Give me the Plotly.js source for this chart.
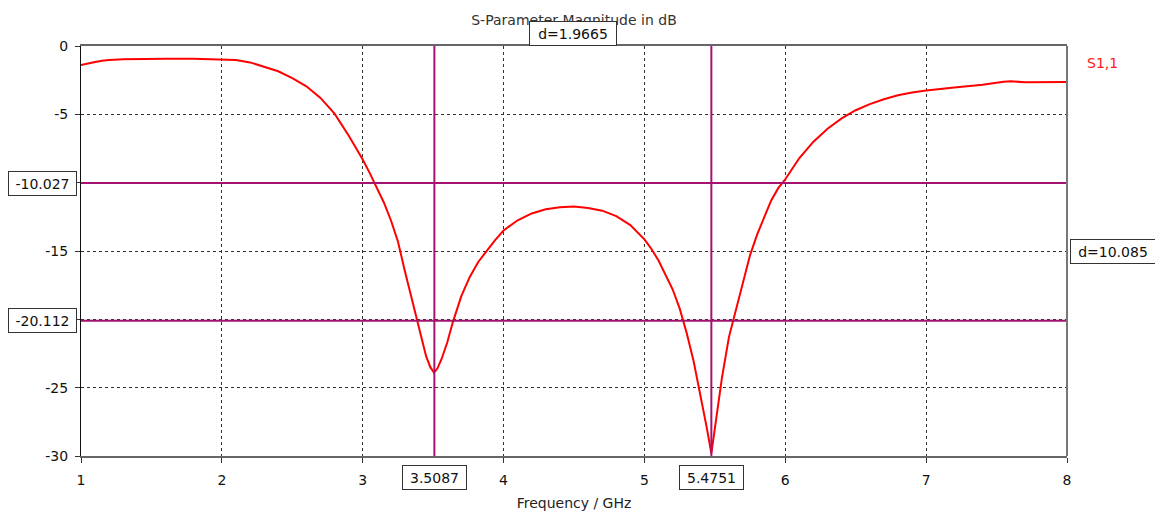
<!DOCTYPE html>
<html>
<head>
<meta charset="utf-8">
<script src="https://cdn.plot.ly/plotly-3.0.1.min.js"></script>
<style>
  html, body { margin: 0; padding: 0; background: #fff; }
  #chart { width: 1155px; height: 515px; }
</style>
</head>
<body>
<div id="chart"></div>
<script>
// ---- Data ----
const freqGHz = [1.0, 1.05, 1.1, 1.15, 1.2, 1.3, 1.45, 1.6, 1.8, 2.0, 2.1, 2.2, 2.3, 2.4, 2.5, 2.6, 2.7, 2.8, 2.9,
  3.0, 3.05, 3.1, 3.15, 3.2, 3.25, 3.3, 3.35, 3.4, 3.45, 3.48, 3.506, 3.53, 3.56, 3.6, 3.64, 3.7, 3.76, 3.82, 3.88, 3.94,
  4.0, 4.1, 4.2, 4.3, 4.4, 4.5, 4.6, 4.7, 4.8, 4.9,
  5.0, 5.05, 5.1, 5.15, 5.2, 5.25, 5.3, 5.35, 5.4, 5.44, 5.4751, 5.5, 5.55, 5.6, 5.65, 5.7, 5.75, 5.8, 5.85, 5.9, 5.95,
  6.0, 6.1, 6.2, 6.3, 6.4, 6.5, 6.6, 6.7, 6.8, 6.9, 7.0, 7.2, 7.4, 7.55, 7.6, 7.7, 7.85, 8.0];
const s11dB = [-1.4, -1.27, -1.17, -1.08, -1.02, -0.97, -0.94, -0.93, -0.94, -0.97, -1.03, -1.2, -1.5, -1.85, -2.35, -2.95, -3.8, -4.95, -6.55,
  -8.3, -9.3, -10.35, -11.45, -12.75, -14.3, -16.5, -18.6, -20.8, -22.7, -23.5, -23.9, -23.6, -22.9, -21.7, -20.2, -18.3, -16.9, -15.8, -15.0, -14.2,
  -13.5, -12.75, -12.25, -11.95, -11.8, -11.75, -11.85, -12.05, -12.45, -13.1,
  -14.15, -14.85, -15.7, -16.7, -17.8, -19.2, -21.0, -23.1, -25.6, -27.8, -29.8, -28.0, -24.3, -21.3, -19.3, -17.1, -15.3, -13.8, -12.5, -11.3, -10.4,
  -9.75, -8.2, -7.0, -6.05, -5.3, -4.7, -4.25, -3.9, -3.6, -3.4, -3.25, -3.03, -2.83, -2.62, -2.58, -2.65, -2.63, -2.63];
const seriesName = 'S1,1';

const xTickVals = [1, 2, 3, 4, 5, 6, 7, 8];
const xTickText = ['1', '2', '3', '4', '5', '6', '7', '8'];
const yTickVals = [0, -5, -10, -15, -20, -25, -30];
const yTickText = ['0', '-5', '', '-15', '', '-25', '-30'];

// markers
const markerFreqs = [3.5087, 5.4751];
const markerFreqLabels = ['3.5087', '5.4751'];
const markerLevels = [-10.027, -20.112];
const markerLevelLabels = ['-10.027', '-20.112'];
const deltaFreqLabel = 'd=1.9665';
const deltaLevelLabel = 'd=10.085';

const xRange = [1, 8];
const yRange = [-30, 0];

// ---- Style ----
const FONT = 'DejaVu Sans, Verdana, sans-serif';
const MARK = '#a3136f';

const traces = [{
  x: freqGHz, y: s11dB, type: 'scatter', mode: 'lines', name: seriesName,
  line: { color: '#ff0000', width: 2 }, hoverinfo: 'skip', showlegend: false
}];
markerLevels.forEach(v => traces.push({
  x: xRange, y: [v, v], type: 'scatter', mode: 'lines',
  line: { color: MARK, width: 2 }, hoverinfo: 'skip', showlegend: false
}));
markerFreqs.forEach(v => traces.push({
  x: [v, v], y: yRange, type: 'scatter', mode: 'lines',
  line: { color: MARK, width: 2 }, hoverinfo: 'skip', showlegend: false
}));

const W = 986, H = 410;
const boxStyle = {
  showarrow: false, bgcolor: '#ffffff', bordercolor: '#333333', borderwidth: 1, borderpad: 3,
  font: { family: FONT, size: 14, color: '#111' }, height: 17
};
const annotations = [];
markerLevels.forEach((v, i) => annotations.push(Object.assign({}, boxStyle, {
  text: markerLevelLabels[i], xref: 'paper', x: -4 / W, xanchor: 'right',
  yref: 'y', y: v, yanchor: 'middle', width: 61
})));
markerFreqs.forEach((v, i) => annotations.push(Object.assign({}, boxStyle, {
  text: markerFreqLabels[i], xref: 'x', x: v, xanchor: 'center',
  yref: 'paper', y: -9 / H, yanchor: 'top', width: 57
})));
annotations.push(Object.assign({}, boxStyle, {
  text: deltaFreqLabel, xref: 'x', x: (markerFreqs[0] + markerFreqs[1]) / 2, xanchor: 'center',
  yref: 'paper', y: 1, yanchor: 'bottom', width: 80
}));
annotations.push(Object.assign({}, boxStyle, {
  text: deltaLevelLabel, xref: 'paper', x: 1 + 3 / W, xanchor: 'left',
  yref: 'y', y: (markerLevels[0] + markerLevels[1]) / 2, yanchor: 'middle', width: 78
}));
annotations.push({
  text: seriesName, showarrow: false, xref: 'paper', x: 1 + 18 / W, xanchor: 'left',
  yref: 'paper', y: 1 - 17 / H, yanchor: 'middle',
  font: { family: FONT, size: 14, color: '#ff2020' }
});

const layout = {
  width: 1155, height: 515,
  margin: { l: 81, r: 88, t: 46, b: 59 },
  paper_bgcolor: '#ffffff', plot_bgcolor: '#ffffff',
  font: { family: FONT, size: 14, color: '#111' },
  title: {
    text: 'S-Parameter Magnitude in dB',
    font: { family: FONT, size: 14, color: '#333' },
    x: 0.5, xref: 'paper', y: 1 - 20 / 515, yref: 'container', yanchor: 'middle'
  },
  xaxis: {
    range: xRange, tickmode: 'array', tickvals: xTickVals, ticktext: xTickText,
    showgrid: true, gridcolor: '#333', griddash: '3px,3px', gridwidth: 1,
    zeroline: false, showline: true, linecolor: '#666', linewidth: 2, mirror: true,
    ticks: 'outside', ticklen: 5, tickcolor: '#333', ticklabelstandoff: 5,
    tickfont: { family: FONT, size: 14, color: '#111' },
    title: { text: 'Frequency / GHz', standoff: 11, font: { family: FONT, size: 14, color: '#222' } }
  },
  yaxis: {
    range: yRange, tickmode: 'array', tickvals: yTickVals, ticktext: yTickText,
    showgrid: true, gridcolor: '#333', griddash: '3px,3px', gridwidth: 1,
    zeroline: false, showline: true, linecolor: '#111', linewidth: 1,
    ticks: 'outside', ticklen: 5, tickcolor: '#333', ticklabelstandoff: 4,
    tickfont: { family: FONT, size: 14, color: '#111' }
  },
  shapes: [{
    type: 'line', xref: 'paper', yref: 'paper', x0: 1, x1: 1, y0: 0, y1: 1,
    line: { color: '#777', width: 2 }
  }],
  annotations: annotations,
  showlegend: false
};

Plotly.newPlot('chart', traces, layout, { staticPlot: true, displayModeBar: false });
</script>
</body>
</html>
